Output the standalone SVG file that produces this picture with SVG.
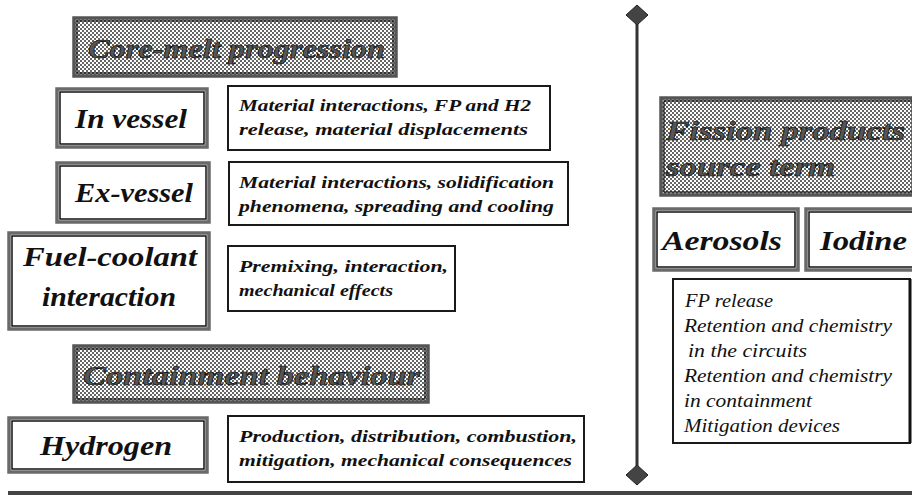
<svg xmlns="http://www.w3.org/2000/svg" width="912" height="495" viewBox="0 0 912 495">
<defs>
<pattern id="dots" width="4" height="4" patternUnits="userSpaceOnUse">
<rect width="4" height="4" fill="#fff"/>
<circle cx="1" cy="1" r="0.95" fill="#222"/>
<circle cx="3" cy="3" r="0.95" fill="#222"/>
</pattern>
<style>
.bg{fill:#fff}
.outer{fill:none;stroke:#6a6a6a;stroke-width:3.5}
.inner{fill:none;stroke:#111;stroke-width:1.5}
.hdr{fill:url(#dots);stroke:#555;stroke-width:3.5}
.hdri{fill:none;stroke:#111;stroke-width:1.2}
.desc{fill:#fff;stroke:#1a1a1a;stroke-width:2}
.big{font-family:"Liberation Serif",serif;font-style:italic;font-weight:bold;font-size:28px;fill:#111}
.ht{font-family:"Liberation Serif",serif;font-style:italic;font-weight:bold;font-size:28px;fill:#555;stroke:#000;stroke-width:0.6}
.md{font-family:"Liberation Serif",serif;font-style:italic;font-weight:bold;font-size:17px;fill:#111}
.fp{font-family:"Liberation Serif",serif;font-style:italic;font-size:18px;fill:#111}
.line{stroke:#333;stroke-width:3;fill:none}
.dia{fill:#444;stroke:#222;stroke-width:1}
</style>
</defs>
<rect width="912" height="495" fill="#fff"/>

<g id="core-melt">
<rect class="hdr" x="74" y="18" width="322" height="58"/>
<rect class="hdri" x="77" y="21" width="316" height="52"/>
<text class="ht" x="88" y="58" textLength="297" lengthAdjust="spacingAndGlyphs">Core-melt progression</text>
</g>

<g id="in-vessel">
<rect class="outer" x="57" y="89" width="150" height="58"/>
<rect class="inner" x="60" y="92" width="144" height="52"/>
<text class="big" x="75" y="128" textLength="112" lengthAdjust="spacingAndGlyphs">In vessel</text>
</g>
<g id="in-vessel-desc">
<rect class="desc" x="228" y="86" width="322" height="64"/>
<text class="md" x="239" y="111" textLength="292" lengthAdjust="spacingAndGlyphs">Material interactions, FP and H2</text>
<text class="md" x="239" y="135" textLength="289" lengthAdjust="spacingAndGlyphs">release, material displacements</text>
</g>

<g id="ex-vessel">
<rect class="outer" x="57" y="163" width="152" height="59"/>
<rect class="inner" x="60" y="166" width="146" height="53"/>
<text class="big" x="75" y="202" textLength="118" lengthAdjust="spacingAndGlyphs">Ex-vessel</text>
</g>
<g id="ex-vessel-desc">
<rect class="desc" x="229" y="162" width="339" height="63"/>
<text class="md" x="239" y="188" textLength="315" lengthAdjust="spacingAndGlyphs">Material interactions, solidification</text>
<text class="md" x="239" y="212" textLength="315" lengthAdjust="spacingAndGlyphs">phenomena, spreading and cooling</text>
</g>

<g id="fuel-coolant">
<rect class="outer" x="9" y="233" width="200" height="96"/>
<rect class="inner" x="12" y="236" width="194" height="90"/>
<text class="big" x="23" y="266" textLength="174" lengthAdjust="spacingAndGlyphs">Fuel-coolant</text>
<text class="big" x="42" y="306" textLength="134" lengthAdjust="spacingAndGlyphs">interaction</text>
</g>
<g id="fci-desc">
<rect class="desc" x="228" y="246" width="227" height="65"/>
<text class="md" x="239" y="272" textLength="209" lengthAdjust="spacingAndGlyphs">Premixing, interaction,</text>
<text class="md" x="239" y="296" textLength="154" lengthAdjust="spacingAndGlyphs">mechanical effects</text>
</g>

<g id="containment">
<rect class="hdr" x="74" y="346" width="354" height="56"/>
<rect class="hdri" x="77" y="349" width="348" height="50"/>
<text class="ht" x="83" y="385" textLength="337" lengthAdjust="spacingAndGlyphs">Containment behaviour</text>
</g>

<g id="hydrogen">
<rect class="outer" x="9" y="418" width="198" height="54"/>
<rect class="inner" x="12" y="421" width="192" height="48"/>
<text class="big" x="40" y="455" textLength="132" lengthAdjust="spacingAndGlyphs">Hydrogen</text>
</g>
<g id="hydrogen-desc">
<rect class="desc" x="228" y="416" width="356" height="66"/>
<text class="md" x="239" y="442" textLength="338" lengthAdjust="spacingAndGlyphs">Production, distribution, combustion,</text>
<text class="md" x="239" y="466" textLength="333" lengthAdjust="spacingAndGlyphs">mitigation, mechanical consequences</text>
</g>

<g id="fission">
<rect class="hdr" x="661" y="98" width="252" height="97"/>
<rect class="hdri" x="664" y="101" width="250" height="91"/>
<text class="ht" x="666" y="140" textLength="239" lengthAdjust="spacingAndGlyphs">Fission products</text>
<text class="ht" x="666" y="176" textLength="169" lengthAdjust="spacingAndGlyphs">source term</text>
</g>

<g id="aerosols">
<rect class="outer" x="654" y="209" width="144" height="61"/>
<rect class="inner" x="657" y="212" width="138" height="55"/>
<text class="big" x="662" y="250" textLength="120" lengthAdjust="spacingAndGlyphs">Aerosols</text>
</g>
<g id="iodine">
<rect class="outer" x="806" y="209" width="110" height="61"/>
<rect class="inner" x="809" y="212" width="110" height="55"/>
<text class="big" x="820" y="250" textLength="87" lengthAdjust="spacingAndGlyphs">Iodine</text>
</g>

<g id="fp-topics">
<rect class="desc" x="673" y="279" width="237" height="164"/>
<line x1="910" y1="279" x2="910" y2="443" stroke="#111" stroke-width="3"/>
<text class="fp" x="685" y="307" textLength="88" lengthAdjust="spacingAndGlyphs">FP release</text>
<text class="fp" x="684" y="332" textLength="208" lengthAdjust="spacingAndGlyphs">Retention and chemistry</text>
<text class="fp" x="688" y="357" textLength="119" lengthAdjust="spacingAndGlyphs">in the circuits</text>
<text class="fp" x="684" y="382" textLength="208" lengthAdjust="spacingAndGlyphs">Retention and chemistry</text>
<text class="fp" x="684" y="407" textLength="128" lengthAdjust="spacingAndGlyphs">in containment</text>
<text class="fp" x="684" y="432" textLength="156" lengthAdjust="spacingAndGlyphs">Mitigation devices</text>
</g>

<g id="connectors">
<line class="line" x1="637" y1="15" x2="637" y2="475"/>
<polygon class="dia" points="637,5 648,15 637,25 626,15"/>
<polygon class="dia" points="637,465 648,475 637,485 626,475"/>
<line x1="8" y1="493" x2="912" y2="493" stroke="#444" stroke-width="4"/>
</g>
</svg>
